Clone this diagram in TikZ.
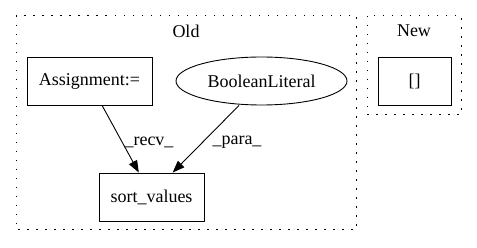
\documentclass[tikz,border=0pt]{standalone}
\usepackage{fontspec}
\setmainfont{Liberation Serif}
\usetikzlibrary{shapes.geometric,arrows.meta,calc}
\begin{document}
\begin{tikzpicture}[x=1pt,y=-1pt,
  txt/.style={font=\fontsize{18}{20}\selectfont},
  cluster/.style={draw,line width=1pt,dash pattern=on 1.5pt off 7.5pt},
  box/.style={draw,line width=0.9pt,rectangle,inner sep=0pt,minimum height=48pt,txt},
  oval/.style={draw,line width=0.9pt,ellipse,inner sep=0pt,minimum height=48pt,txt},
  edge/.style={draw,line width=0.9pt,-{Triangle[length=12pt,width=9pt]}}]
\useasboundingbox (0,0) rectangle (477,248);
% clusters
\draw[cluster] (16,16) rectangle (356,230);
\draw[cluster] (367,16) rectangle (461,115);
\node[txt] (oldlbl) at (186,31) {Old};
\node[txt] (newlbl) at (414,31) {New};
% nodes
\node[box,minimum width=125pt] (assign) at (89.5,81) {Assignment:=};
\node[oval,minimum width=171pt] (bool) at (261.5,81) {BooleanLiteral};
\node[box,minimum width=105pt] (sort) at (151.5,197) {sort\_values};
\node[box,minimum width=73pt] (brk) at (414.5,81) {[]};
% edges
\path[edge] ($(assign.south west)!0.6!(assign.south east)$)
  -- ($(sort.north west)!0.38!(sort.north east)$);
\path[edge] ($(bool.south)+(-22.5,0)$) -- ($(sort.north west)!0.7!(sort.north east)$);
\node[txt] (recv) at (149,142) {\_recv\_};
\node[txt] (para) at (237,142) {\_para\_};
\end{tikzpicture}
\end{document}
